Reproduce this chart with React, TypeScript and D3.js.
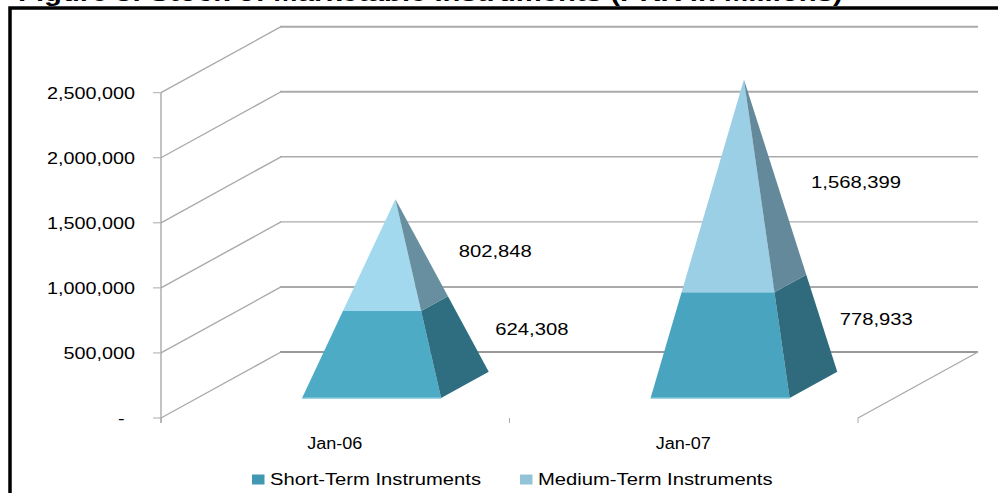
import React from "react";
import * as d3 from "d3";

const categories = ["Jan-06", "Jan-07"];
const shortTerm = [624308, 778933];
const mediumTerm = [802848, 1568399];
const yTicks = [0, 500000, 1000000, 1500000, 2000000, 2500000];
const seriesNames = ["Short-Term Instruments", "Medium-Term Instruments"];
const titleText = "Figure 5: Stock of Marketable Instruments (PKR in Millions)";

const shortFront = ["#4dabc5", "#49a4bf"];
const shortSide = ["#2e6e80", "#2f6b7c"];
const mediumFront = ["#a2d9ee", "#9bcfe5"];
const mediumSide = ["#678f9f", "#63899a"];
const legendColors = ["#4298b3", "#92c3d6"];

const W = 998, H = 493;
const x0 = 161, x1 = 858, y0 = 418;
const depthX = 120, depthY = 66;

const band = d3.scaleBand<string>().domain(categories).range([x0, x1]);
const y = d3.scaleLinear().domain([0, 2500000]).range([y0, 92.7]);
const fmt = d3.format(",");
const GRID_STROKE = [2, 2, 1.2, 1.5, 2, 2];
const GRID_COLOR = ["#999", "#aaa", "#aaa", "#aaa", "#aaa", "#aaa"];

// depth fractions of the pyramid base inside the floor of the 3D box
const tFront = 0.303, tBack = 0.7, tMid = (tFront + tBack) / 2;
const halfBase = 69.5;

type P = [number, number];
const project = (cx: number, dx: number, t: number, v: number): P => [
  cx + dx + depthX * t,
  y(v) - depthY * t,
];
const mix = (a: P, b: P, f: number): P => [a[0] + (b[0] - a[0]) * f, a[1] + (b[1] - a[1]) * f];
const poly = d3.line<P>();

function Stretched({ x, y: yy, sx, size = 17, anchor = "start", children, weight }: any) {
  return (
    <text
      transform={`translate(${x},${yy}) scale(${sx},1)`}
      fontFamily="'Liberation Sans', Arial, sans-serif"
      fontSize={size}
      fontWeight={weight}
      textAnchor={anchor}
      fill="#000"
    >
      {children}
    </text>
  );
}

// offsets of the value labels from the right-hand edge of each segment
const labelOffset: { short: P; medium: P }[] = [
  { short: [27, 1], medium: [37, 9.5] },
  { short: [18, 1.5], medium: [36, 10.5] },
];

export default function App() {
  return (
    <svg
      width={W}
      height={H}
      viewBox={`0 0 ${W} ${H}`}
      style={{ position: "absolute", left: 0, top: 0, display: "block", background: "#fff" }}
    >
      <Stretched x={18} y={0.5} sx={1.22} size={24} weight="bold">{titleText}</Stretched>
      <path d={`M10,${H} V8 H${W}`} fill="none" stroke="#000" strokeWidth={3.5} />

      {/* back wall gridlines and side-wall diagonals */}
      {yTicks.map((t, i) => {
        const yy = y(t);
        return (
          <g key={t}>
            <line x1={x0 + depthX - 1} x2={978} y1={yy - depthY} y2={yy - depthY} stroke={GRID_COLOR[i]} strokeWidth={GRID_STROKE[i]} />
            <line x1={x0} x2={x0 + depthX} y1={yy} y2={yy - depthY} stroke="#aaa" strokeWidth={1.4} />
            <line x1={x0 - 8} x2={x0} y1={yy} y2={yy} stroke="#aaa" strokeWidth={1} />
            <Stretched x={t === 0 ? 124.5 : 135} y={yy + 6} sx={1.165} anchor="end">{t === 0 ? "-" : fmt(t)}</Stretched>
          </g>
        );
      })}
      <line x1={x0} x2={x0} y1={y(2500000)} y2={y0 + 5} stroke="#aaa" strokeWidth={1.4} />
      <line x1={x1} x2={x1 + depthX} y1={y0} y2={y0 - depthY} stroke="#aaa" strokeWidth={1.4} />
      {[x0, x0 + band.bandwidth(), x1].map((v) => (
        <line key={v} x1={v} x2={v} y1={y0} y2={y0 + 5} stroke="#aaa" strokeWidth={1} />
      ))}

      {/* pyramids */}
      {categories.map((c, i) => {
        const cx = band(c)! + band.bandwidth() / 2;
        const total = shortTerm[i] + mediumTerm[i];
        const fl = project(cx, -halfBase, tFront, 0);
        const fr = project(cx, halfBase, tFront, 0);
        const br = project(cx, halfBase, tBack, 0);
        const apex = project(cx, 0, tMid, total);
        const f = shortTerm[i] / total;
        const sl = mix(fl, apex, f);
        const sf = mix(fr, apex, f);
        const sb = mix(br, apex, f);
        const ms = mix(br, apex, f / 2);
        const mm = mix(br, apex, (1 + f) / 2);
        const off = labelOffset[i];
        return (
          <g key={c}>
            <path d={poly([fl, fr, sf, sl])! + "Z"} fill={shortFront[i]} />
            <path d={poly([fr, br, sb, sf])! + "Z"} fill={shortSide[i]} />
            <path d={poly([sl, sf, apex])! + "Z"} fill={mediumFront[i]} />
            <path d={poly([sf, sb, apex])! + "Z"} fill={mediumSide[i]} />
            <line x1={fl[0]} x2={fr[0]} y1={fl[1]} y2={fr[1]} stroke="#7fc6da" strokeWidth={1.5} />
            <Stretched x={ms[0] + off.short[0]} y={ms[1] + off.short[1]} sx={1.19}>{fmt(shortTerm[i])}</Stretched>
            <Stretched x={mm[0] + off.medium[0]} y={mm[1] + off.medium[1]} sx={1.19}>{fmt(mediumTerm[i])}</Stretched>
            <Stretched x={band(c)! + band.bandwidth() / 2 - 0.5} y={449} sx={1.13} size={16} anchor="middle">{c}</Stretched>
          </g>
        );
      })}

      {/* legend */}
      {seriesNames.map((n, i) => {
        const lx = [252, 520][i];
        return (
          <g key={n}>
            <rect x={lx} y={474.5} width={12.5} height={10} fill={legendColors[i]} />
            <Stretched x={lx + 18} y={485} sx={1.225} size={16.5}>{n}</Stretched>
          </g>
        );
      })}
    </svg>
  );
}
